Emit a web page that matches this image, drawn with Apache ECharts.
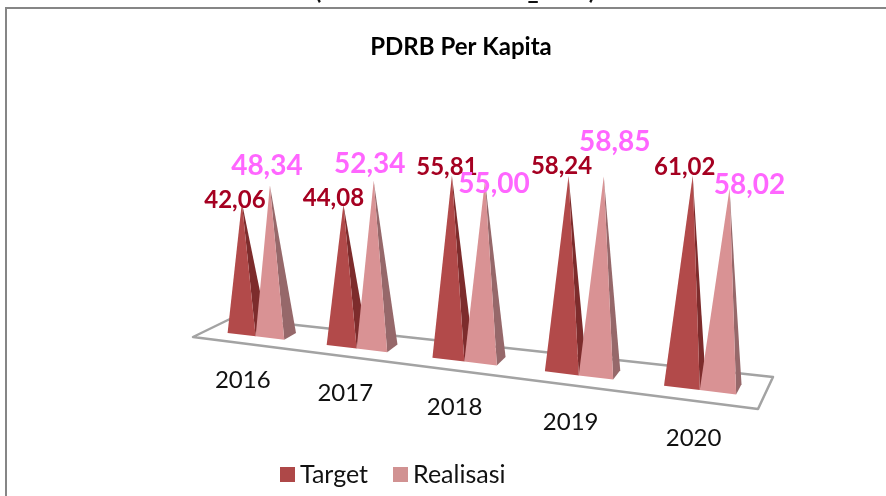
<!DOCTYPE html>
<html style="height: 100%">
<head>
<meta charset="utf-8">
<script src="https://cdn.jsdelivr.net/npm/echarts@6/dist/echarts.min.js"></script>
</head>
<body style="height: 100%; margin: 0; background: #fff">
<div id="container" style="width: 886px; height: 496px"></div>
<script>
var categories = ['2016', '2017', '2018', '2019', '2020'];
var target = [42.06, 44.08, 55.81, 58.24, 61.02];
var realisasi = [48.34, 52.34, 55.00, 58.85, 58.02];

// hand placed labels in the original, offset from the pyramid tip
var targetLabelShift = [[-7, -2], [-10, -6], [-5, -8], [-7, -10], [-8, -8]];
var realisasiLabelShift = [[-3, -20], [-4, -17], [9, 3], [11, -35], [20, -4]];

var FONT = 'Lato';
var GRID = { left: 193, top: 50, width: 565, height: 300 };
var FLOOR = [[193, 337], [758, 409], [773, 377], [232, 318]]; // front-left, front-right, back-right, back-left
var V0 = 0.35, V1 = 0.68, HALF = 0.058;

// slight perspective along the floor
function warp(u) {
	return 0.088 + 0.9975 * (u - 0.1) + 0.15 * (u - 0.1) * (u - 0.9);
}
function floorPt(u, v) {
	var s = warp(u);
	var fx = FLOOR[0][0] + (FLOOR[1][0] - FLOOR[0][0]) * s, fy = FLOOR[0][1] + (FLOOR[1][1] - FLOOR[0][1]) * s;
	var bx = FLOOR[3][0] + (FLOOR[2][0] - FLOOR[3][0]) * s, by = FLOOR[3][1] + (FLOOR[2][1] - FLOOR[3][1]) * s;
	return [fx + (bx - fx) * v, fy + (by - fy) * v];
}

// category centre on the floor, and the tip of a pyramid of that value
function bandU(api) {
	return (api.coord([api.value(0), 0])[0] - GRID.left) / GRID.width;
}
function tipOf(api, uc) {
	var rise = api.coord([api.value(0), 0])[1] - api.coord([api.value(0), api.value(1)])[1];
	rise = rise * (1.01 + 0.14 * uc);
	var c = floorPt(uc, (V0 + V1) / 2);
	return [c[0] + (c[0] - 486) * 0.00019 * rise, c[1] - rise];
}

function pyramid(side, front, right) {
	return function (params, api) {
		var uc = bandU(api);
		var u0 = side < 0 ? uc - HALF : uc;
		var u1 = u0 + HALF;
		var tip = tipOf(api, (u0 + u1) / 2);
		var fl = floorPt(u0, V0), fr = floorPt(u1, V0), br = floorPt(u1, V1);
		return {
			type: 'group',
			children: [
				{ type: 'polygon', shape: { points: [fr, br, tip] }, style: { fill: right } },
				{ type: 'polygon', shape: { points: [fl, fr, tip] }, style: { fill: front } }
			]
		};
	};
}

function valueLabel(side, shift, color, size) {
	return function (params, api) {
		var uc = bandU(api);
		var u0 = side < 0 ? uc - HALF : uc;
		var tip = tipOf(api, u0 + HALF / 2);
		var s = shift[params.dataIndex];
		return {
			type: 'text',
			style: {
				x: tip[0] + s[0], y: tip[1] + s[1],
				text: api.value(1).toFixed(2).replace('.', ','),
				fill: color, font: 'bold ' + size + 'px ' + FONT,
				align: 'center', verticalAlign: 'middle'
			}
		};
	};
}

function pairs(values) {
	return values.map(function (v, i) { return [i, v]; });
}

// bits of a heading cut off by the top of the picture
function cutOff(ch, x, y) {
	return { type: 'text', silent: true, style: { x: x, y: y, text: ch, fill: '#111', font: 'bold 24px ' + FONT, align: 'center', verticalAlign: 'bottom' } };
}

var myChart = echarts.init(document.getElementById('container'));
myChart.setOption({
	animation: false,
	title: {
		text: 'PDRB Per Kapita', left: 456, top: 30, textAlign: 'center',
		textStyle: { fontFamily: FONT, fontWeight: 'bold', fontSize: 24, color: '#000' }
	},
	legend: {
		data: ['Target', 'Realisasi'], left: 275, top: 457, icon: 'rect',
		itemWidth: 15, itemHeight: 15, itemGap: 25,
		textStyle: { fontFamily: FONT, fontSize: 25, color: '#111' }
	},
	grid: GRID,
	xAxis: { type: 'category', data: categories, show: false },
	yAxis: { type: 'value', min: 0, max: 100, show: false },
	graphic: [
		{ type: 'polyline', silent: true, shape: { points: [[6, 496], [6, 8], [886, 8]] },
			style: { stroke: '#868686', lineWidth: 2, fill: null } },
		cutOff('(', 318, 3),
		cutOff('_', 533, 3),
		cutOff(')', 592, 3)
	],
	series: [
		{
			type: 'custom', name: 'floor', data: [[0, 0]], z: 1, silent: true,
			renderItem: function () {
				return { type: 'polygon', shape: { points: FLOOR }, style: { fill: '#fff', stroke: '#a3a3a3', lineWidth: 2.5, lineJoin: 'round' } };
			}
		},
		{
			type: 'custom', name: 'Target', data: pairs(target), z: 2, itemStyle: { color: '#ae4848' },
			renderItem: pyramid(-1, '#b24a4a', '#7d2c2c')
		},
		{
			type: 'custom', name: 'Realisasi', data: pairs(realisasi), z: 3, itemStyle: { color: '#d19292' },
			renderItem: pyramid(1, '#d99294', '#96686a')
		},
		{
			type: 'custom', name: 'years', data: pairs(categories.map(function () { return 0; })), z: 4, silent: true,
			renderItem: function (params, api) {
				var p = floorPt(bandU(api), 0);
				return {
					type: 'text',
					style: { x: p[0], y: p[1] + 37, text: categories[params.dataIndex], fill: '#111',
						font: '24px ' + FONT, align: 'center', verticalAlign: 'middle' }
				};
			}
		},
		{
			type: 'custom', name: 'targetLabels', data: pairs(target), z: 5, silent: true,
			renderItem: valueLabel(-1, targetLabelShift, '#a50021', 24)
		},
		{
			type: 'custom', name: 'realisasiLabels', data: pairs(realisasi), z: 6, silent: true,
			renderItem: valueLabel(1, realisasiLabelShift, '#ff66ff', 28)
		}
	]
});
</script>
</body>
</html>
